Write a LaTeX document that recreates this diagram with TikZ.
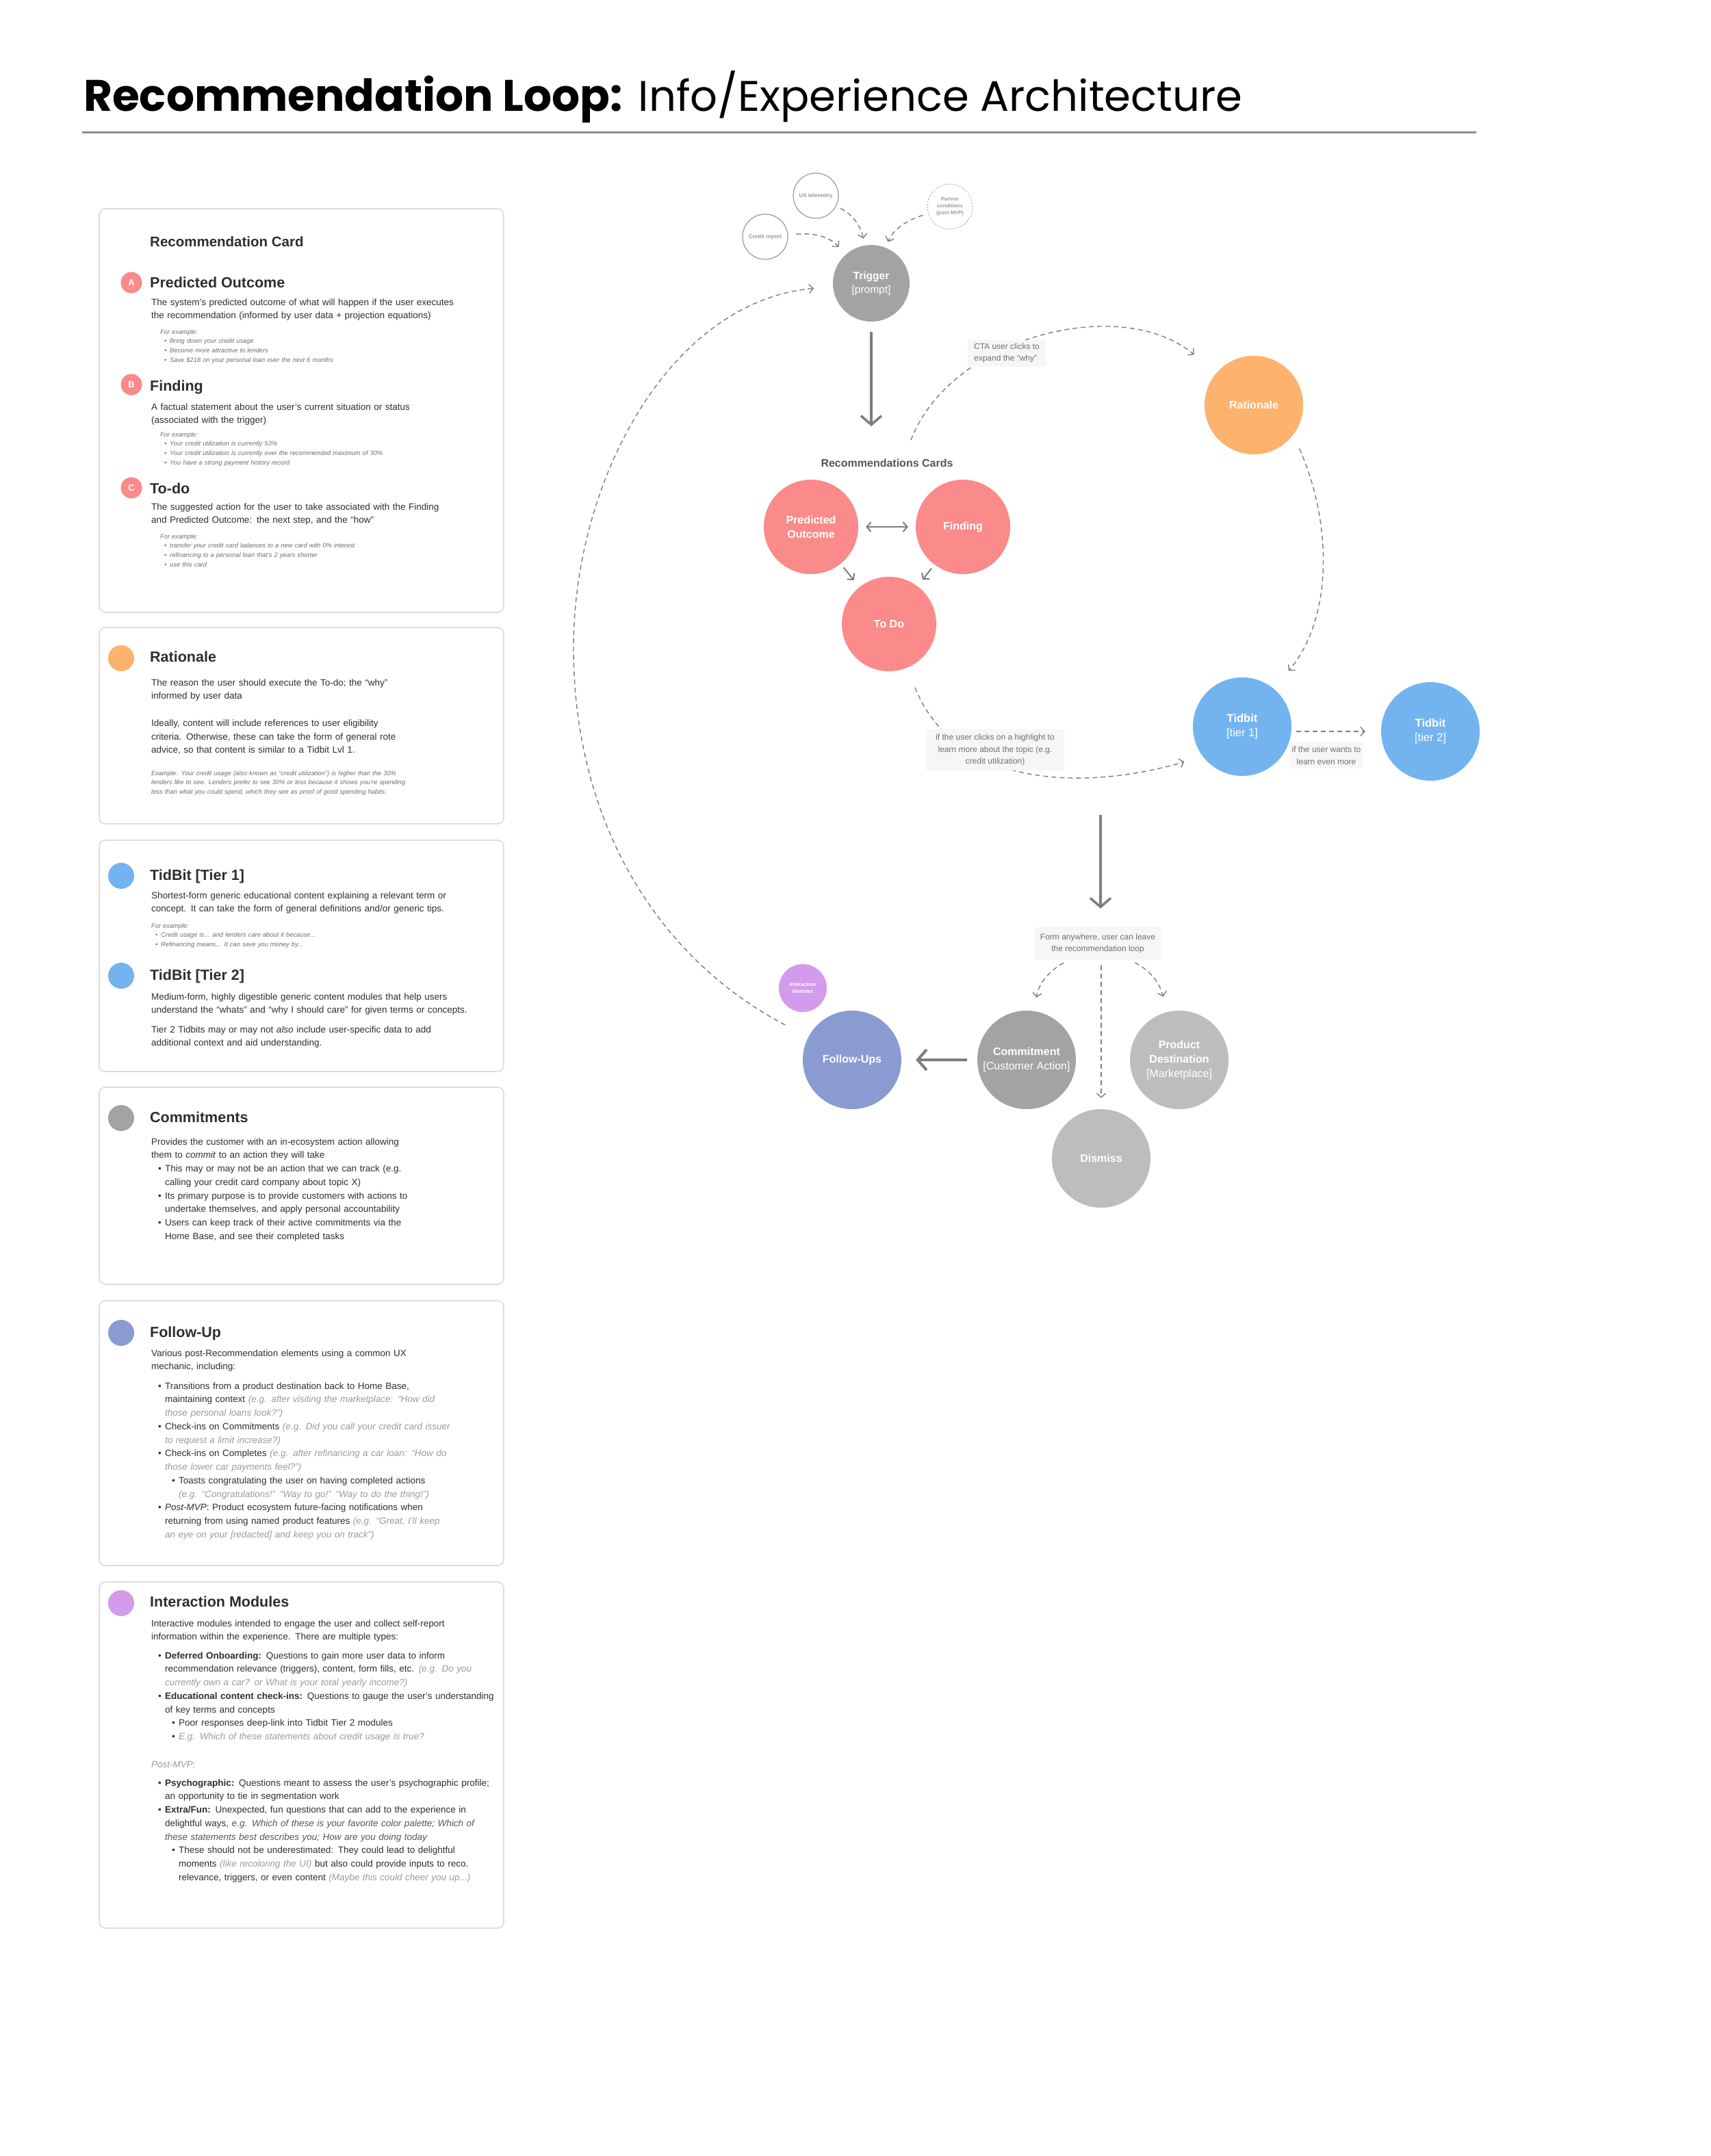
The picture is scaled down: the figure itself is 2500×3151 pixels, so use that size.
\documentclass[tikz,border=0pt]{standalone}
\usepackage{fontspec}
\setmainfont{Liberation Sans}
\newfontfamily\titlefont{Poppins}
\usetikzlibrary{arrows.meta, positioning}

\definecolor{salmon}{HTML}{FB8A8A}
\definecolor{apricot}{HTML}{FDB26E}
\definecolor{sky}{HTML}{73B4F0}
\definecolor{stone}{HTML}{A3A3A3}
\definecolor{pebble}{HTML}{BDBDBD}
\definecolor{periwinkle}{HTML}{8A9BD2}
\definecolor{lilac}{HTML}{D49AEB}
\definecolor{ink}{HTML}{2E2E2E}
\definecolor{faint}{HTML}{9B9B9B}
\definecolor{exgray}{HTML}{6E6E6E}
\definecolor{cardline}{HTML}{DCDCDC}
\definecolor{notebg}{HTML}{F6F6F6}
\definecolor{notetext}{HTML}{707070}
\definecolor{arrowgray}{HTML}{7D7D7D}
\definecolor{srcgray}{HTML}{9A9A9A}
\definecolor{labelink}{HTML}{555555}
\definecolor{rulegray}{HTML}{8C8C8C}

\newcommand\bul{\hspace*{10pt}\makebox[10pt][l]{•}}
\newcommand\cont{\hspace*{20pt}}
\newcommand\subbul{\hspace*{30pt}\makebox[10pt][l]{•}}
\newcommand\subcont{\hspace*{40pt}}
\newcommand\exbul{\hspace*{6pt}\makebox[8pt][l]{•}}
\newcommand\gi[1]{\textcolor{faint}{\itshape #1}}

\begin{document}
\begin{tikzpicture}[x=1pt, y=-1pt, on grid,
    card/.style={draw=cardline, line width=1.6pt, rounded corners=9pt},
    head/.style={anchor=base west, inner sep=0pt, text=ink, font=\fontsize{21.5}{26}\selectfont\bfseries},
    body/.style={anchor=base west, inner sep=0pt, text width=560pt, align=left, text=ink, font=\fontsize{13.5}{19.75}\selectfont},
    ex/.style={body, text=exgray, font=\fontsize{9.3}{13.8}\selectfont\itshape},
    tag/.style={circle, fill=salmon, minimum size=31pt, inner sep=0pt, text=white, font=\fontsize{13}{13}\selectfont\bfseries},
    swatch/.style={circle, minimum size=38pt, inner sep=0pt},
    bubble/.style={circle, minimum size=144pt, inner sep=0pt, text=white, align=center, font=\fontsize{16}{21}\selectfont},
    src/.style={circle, draw=srcgray, line width=1.2pt, minimum size=66pt, inner sep=0pt, text=srcgray, align=center, font=\fontsize{8}{10}\selectfont\bfseries},
    note/.style={fill=notebg, inner sep=4pt, text=notetext, font=\fontsize{12}{17.5}\selectfont},
    dasharr/.style={->, >={Straight Barb[length=6pt,width=13pt]}, color=arrowgray, line width=1.4pt, dash pattern=on 7pt off 5pt},
    smallarr/.style={->, >={Straight Barb[length=6pt,width=14pt]}, color=arrowgray, line width=2pt},
    bigarr/.style={->, >={Straight Barb[length=13pt,width=30pt]}, color=arrowgray, line width=3.5pt},
  ]
\fill[white] (0,0) rectangle (2500,3151);
\useasboundingbox (0,0) rectangle (2500,3151);

\node[anchor=base west, inner sep=0pt, font=\titlefont\fontsize{64.5}{72}\selectfont] (title) at (122,162) {\textbf{Recommendation Loop:} {\fontsize{62.5}{72}\selectfont Info/Experience Architecture}};
\draw[line width=3pt, rulegray] (120,193) -- (2157,193);

\draw[card] (145,305) rectangle (736,895);
\draw[card] (145,917) rectangle (736,1204);
\draw[card] (145,1228) rectangle (736,1566);
\draw[card] (145,1589) rectangle (736,1877);
\draw[card] (145,1901) rectangle (736,2288);
\draw[card] (145,2312) rectangle (736,2818);

\node[head, font=\fontsize{20.5}{26}\selectfont\bfseries] (h_card) at (219,360) {Recommendation Card};
\node[tag] (tag_a) at (192,413) {A};
\node[head] (h_po) at (219,420) {Predicted Outcome};
\node[body] (b_po) at (221,446) {The system’s predicted outcome of what will happen if the user executes\\the recommendation (informed by user data + projection equations)};
\node[ex] (e_po) at (234,488) {For example:\\
\exbul Bring down your credit usage\\
\exbul Become more attractive to lenders\\
\exbul Save \$218 on your personal loan over the next 6 months};
\node[tag] (tag_b) at (192,562) {B};
\node[head] (h_find) at (219,571) {Finding};
\node[body] (b_find) at (221,599) {A factual statement about the user’s current situation or status\\(associated with the trigger)};
\node[ex] (e_find) at (234,638) {For example:\\
\exbul Your credit utilization is currently 53\%\\
\exbul Your credit utilization is currently over the recommended maximum of 30\%\\
\exbul You have a strong payment history record};
\node[tag] (tag_c) at (192,713) {C};
\node[head] (h_todo) at (219,721) {To-do};
\node[body] (b_todo) at (221,745) {The suggested action for the user to take associated with the Finding\\and Predicted Outcome: the next step, and the “how”};
\node[ex] (e_todo) at (234,787) {For example:\\
\exbul transfer your credit card balances to a new card with 0\% interest\\
\exbul refinancing to a personal loan that’s 2 years shorter\\
\exbul use this card};

\node[swatch, fill=apricot] (sw_rat) at (177,962) {};
\node[head] (h_rat) at (219,967) {Rationale};
\node[body] (b_rat) at (221,1002) {The reason the user should execute the To-do; the “why”\\informed by user data\\[19.75pt]Ideally, content will include references to user eligibility\\criteria. Otherwise, these can take the form of general rote\\advice, so that content is similar to a Tidbit Lvl 1.};
\node[ex] (e_rat) at (221,1133) {Example: Your credit usage (also known as “credit utilization”) is higher than the 30\%\\lenders like to see. Lenders prefer to see 30\% or less because it shows you’re spending\\less than what you could spend, which they see as proof of good spending habits.};

\node[swatch, fill=sky] (sw_tb1) at (177,1280) {};
\node[head] (h_tb1) at (219,1286) {TidBit [Tier 1]};
\node[body] (b_tb1) at (221,1313) {Shortest-form generic educational content explaining a relevant term or\\concept. It can take the form of general definitions and/or generic tips.};
\node[ex] (e_tb1) at (221,1356) {For example:\\
\exbul Credit usage is... and lenders care about it because...\\
\exbul Refinancing means... It can save you money by...};
\node[swatch, fill=sky] (sw_tb2) at (177,1426) {};
\node[head] (h_tb2) at (219,1432) {TidBit [Tier 2]};
\node[body] (b_tb2) at (221,1461) {Medium-form, highly digestible generic content modules that help users\\understand the “whats” and “why I should care” for given terms or concepts.};
\node[body] (b_tb2b) at (221,1509) {Tier 2 Tidbits may or may not \textit{also} include user-specific data to add\\additional context and aid understanding.};

\node[swatch, fill=stone] (sw_com) at (177,1634) {};
\node[head] (h_com) at (219,1640) {Commitments};
\node[body] (b_com) at (221,1673) {Provides the customer with an in-ecosystem action allowing\\them to \textit{commit} to an action they will take\\
\bul This may or may not be an action that we can track (e.g.\\
\cont calling your credit card company about topic X)\\
\bul Its primary purpose is to provide customers with actions to\\
\cont undertake themselves, and apply personal accountability\\
\bul Users can keep track of their active commitments via the\\
\cont Home Base, and see their completed tasks};

\node[swatch, fill=periwinkle] (sw_fu) at (177,1948) {};
\node[head] (h_fu) at (219,1954) {Follow-Up};
\node[body] (b_fu) at (221,1982) {Various post-Recommendation elements using a common UX\\mechanic, including:};
\node[body] (l_fu) at (221,2030) {\bul Transitions from a product destination back to Home Base,\\
\cont maintaining context \gi{(e.g. after visiting the marketplace: “How did}\\
\cont \gi{those personal loans look?”)}\\
\bul Check-ins on Commitments \gi{(e.g. Did you call your credit card issuer}\\
\cont \gi{to request a limit increase?)}\\
\bul Check-ins on Completes \gi{(e.g. after refinancing a car loan: “How do}\\
\cont \gi{those lower car payments feel?”)}\\
\subbul Toasts congratulating the user on having completed actions\\
\subcont \gi{(e.g. “Congratulations!” “Way to go!” “Way to do the thing!”)}\\
\bul \textit{Post-MVP}: Product ecosystem future-facing notifications when\\
\cont returning from using named product features \gi{(e.g. “Great, I’ll keep}\\
\cont \gi{an eye on your [redacted] and keep you on track”)}};

\node[swatch, fill=lilac] (sw_im) at (177,2343) {};
\node[head] (h_im) at (219,2348) {Interaction Modules};
\node[body] (b_im) at (221,2377) {Interactive modules intended to engage the user and collect self-report\\information within the experience. There are multiple types:};
\node[body] (l_im) at (221,2424) {\bul \textbf{Deferred Onboarding:} Questions to gain more user data to inform\\
\cont recommendation relevance (triggers), content, form fills, etc. \gi{(e.g. Do you}\\
\cont \gi{currently own a car? or What is your total yearly income?)}\\
\bul \textbf{Educational content check-ins:} Questions to gauge the user’s understanding\\
\cont of key terms and concepts\\
\subbul Poor responses deep-link into Tidbit Tier 2 modules\\
\subbul \gi{E.g. Which of these statements about credit usage is true?}};
\node[body] (p_im) at (221,2583) {\gi{Post-MVP:}};
\node[body] (l_im2) at (221,2610) {\bul \textbf{Psychographic:} Questions meant to assess the user’s psychographic profile;\\
\cont an opportunity to tie in segmentation work\\
\bul \textbf{Extra/Fun:} Unexpected, fun questions that can add to the experience in\\
\cont delightful ways, \textcolor{labelink}{\itshape e.g. Which of these is your favorite color palette; Which of}\\
\cont \textcolor{labelink}{\itshape these statements best describes you; How are you doing today}\\
\subbul These should not be underestimated: They could lead to delightful\\
\subcont moments \gi{(like recoloring the UI)} but also could provide inputs to reco.\\
\subcont relevance, triggers, or even content \gi{(Maybe this could cheer you up...)}};

\node[bubble, fill=stone, minimum size=112pt, font=\fontsize{15.5}{20}\selectfont] (trig) at (1273,414) {\textbf{Trigger}\\{[prompt]}};
\node[src] (ux) at (1192,286) {UX telemetry};
\node[src] (credit) at (1118,346) {Credit report};
\node[src, dash pattern=on 1.4pt off 2.6pt, font=\fontsize{7.5}{10}\selectfont\bfseries] (partner) at (1388,302) {Partner\\conditions\\(post-MVP)};
\node[anchor=base, inner sep=0pt, text=labelink, font=\fontsize{16}{20}\selectfont\bfseries] (reclbl) at (1296,682) {Recommendations Cards};
\coordinate (recin) at (1273,623);
\coordinate (ctastart) at (1331,643);
\node[bubble, fill=salmon, minimum size=138pt] (po) at (1185,770) {\textbf{Predicted}\\\textbf{Outcome}};
\node[bubble, fill=salmon, minimum size=138pt] (find) [right=222pt of po] {\textbf{Finding}};
\node[bubble, fill=salmon, minimum size=138pt] (todo) [below right=142pt and 114pt of po] {\textbf{To Do}};
\node[bubble, fill=apricot] (rat) at (1832,592) {\textbf{Rationale}};
\node[bubble, fill=sky, font=\fontsize{16.5}{21}\selectfont] (tb1) at (1815,1062) {\textbf{Tidbit}\\{[tier 1]}};
\node[bubble, fill=sky, font=\fontsize{16.5}{21}\selectfont] (tb2) [below right=7pt and 275pt of tb1] {\textbf{Tidbit}\\{[tier 2]}};
\coordinate (split) at (1608,1191);
\node[note, align=center, minimum width=183pt, minimum height=48pt] (leave) at (1604,1379) {Form anywhere, user can leave\\the recommendation loop};
\node[bubble, fill=periwinkle] (fu) at (1245,1549) {\textbf{Follow-Ups}};
\node[bubble, fill=lilac, minimum size=70pt, font=\fontsize{7.5}{10}\selectfont\bfseries] (im) [above left=105pt and 72pt of fu] {Interaction\\Modules};
\node[bubble, fill=stone] (com) [right=255pt of fu] {\textbf{Commitment}\\{[Customer Action]}};
\node[bubble, fill=pebble] (prod) [right=223pt of com] {\textbf{Product}\\\textbf{Destination}\\{[Marketplace]}};
\node[bubble, fill=pebble] (dis) [below right=144pt and 109pt of com] {\textbf{Dismiss}};
\coordinate (loopw) at (838,947);

\draw[dasharr, shorten <=12pt, shorten >=15pt] (credit) .. controls (1190,340) and (1212,346) .. (trig);
\draw[dasharr, shorten <=7pt, shorten >=10pt] (ux) .. controls (1245,313) and (1258,330) .. (trig);
\draw[dasharr, shorten <=8pt, shorten >=9pt] (partner) .. controls (1325,322) and (1305,335) .. (trig);
\draw[bigarr, shorten <=15pt] (trig) -- (recin);
\draw[dasharr, shorten >=42pt] (ctastart) .. controls (1390,490) and (1640,430) .. (rat);
\path[smallarr] (po) edge[<->, shorten <=11pt, shorten >=11pt] (find)
      (po) edge[shorten <=7pt, shorten >=13pt] (todo)
      (find) edge[shorten <=7pt, shorten >=12pt] (todo);
\draw[dasharr, shorten <=31pt, shorten >=28pt] (todo) .. controls (1400,1160) and (1600,1152) .. (tb1.217);
\draw[dasharr, shorten <=22pt, shorten >=34pt] (rat.-37) .. controls (1945,760) and (1950,900) .. (tb1);
\draw[dasharr, shorten <=7pt, shorten >=23pt] (tb1.east |- tb2) -- (tb2.west);
\draw[bigarr, shorten >=27pt] (split) -- (split |- leave.north);
\draw[dasharr, shorten <=8pt, shorten >=20pt] (leave) .. controls (1535,1418) and (1518,1435) .. (com);
\draw[dasharr, shorten <=8pt, shorten >=16pt] (leave.south -| dis) -- (dis);
\draw[dasharr, shorten <=8pt, shorten >=23pt] (leave) .. controls (1680,1418) and (1694,1435) .. (prod);
\draw[bigarr, line width=4pt, shorten <=15pt, shorten >=21pt] (com) -- (fu);
\draw[dasharr, shorten <=38pt, shorten >=28pt] (fu) .. controls (960,1400) and (838,1200) .. (loopw) .. controls (838,700) and (980,440) .. (trig);

\node[note, align=left, minimum width=114pt, minimum height=39pt] (cta) at (1471,516) {CTA user clicks to\\expand the “why”};
\node[note, align=center, minimum width=202pt, minimum height=60pt] (hl) at (1454,1096) {if the user clicks on a highlight to\\learn more about the topic (e.g.\\credit utilization)};
\node[note, align=center, minimum width=101pt, minimum height=38pt] (more) at (1938,1104) {if the user wants to\\learn even more};
\end{tikzpicture}
\end{document}
